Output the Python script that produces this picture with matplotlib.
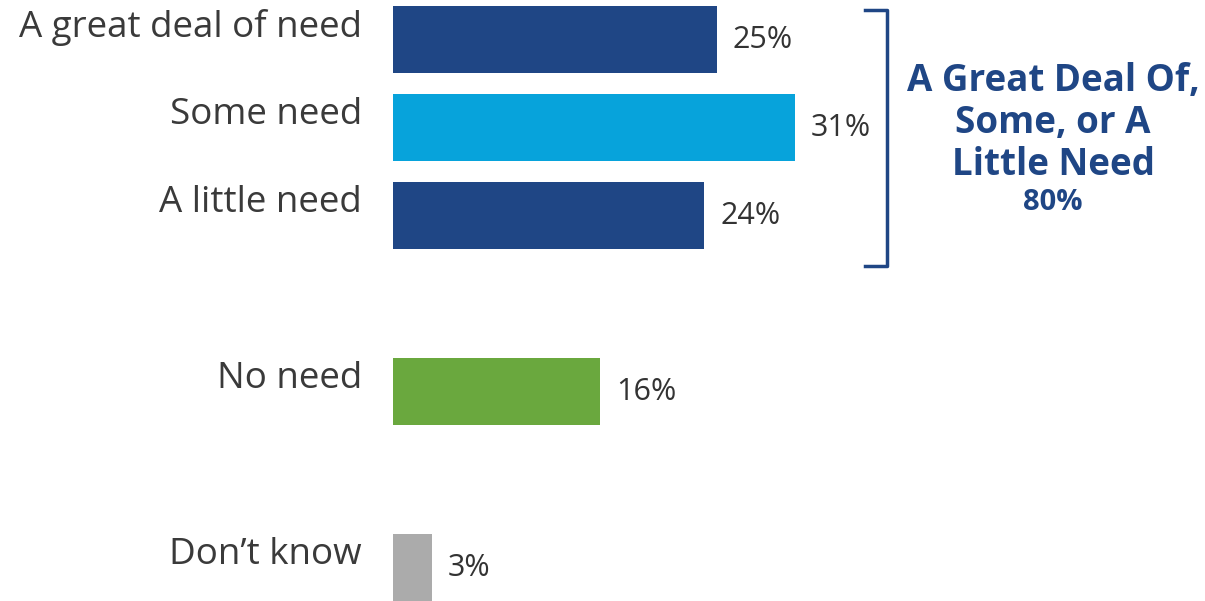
import matplotlib
matplotlib.use("Agg")
import matplotlib.pyplot as plt

categories = ["A great deal of need", "Some need", "A little need", "No need", "Don\u2019t know"]
values = [25, 31, 24, 16, 3]
positions = [0, 1, 2, 4, 6]
colors = ["#1F4685", "#07A3DB", "#1F4685", "#6AA83E", "#ABABAB"]
value_labels = ["25%", "31%", "24%", "16%", "3%"]
summary_text = "A Great Deal Of,\nSome, or A\nLittle Need"
summary_value = "80%"

plt.rcParams['font.family'] = ['Open Sans', 'DejaVu Sans']

W, H = 1205, 601
fig = plt.figure(figsize=(W / 100, H / 100), dpi=100)
left_px = 393
px_per_unit = 12.96
ax = fig.add_axes([left_px / W, 0, 1 - left_px / W, 1])
ax.set_xlim(0, (W - left_px) / px_per_unit)
step = 88.0
top_c = 39.5
ax.set_ylim((H - top_c) / step, -top_c / step)
ax.axis("off")

bh = 67 / step
ax.barh(positions, values, height=bh, color=colors, clip_on=False)

for p, v, lab, cat in zip(positions, values, value_labels, categories):
    ax.annotate(lab, xy=(v, p), xytext=(16, -1), textcoords="offset pixels",
                ha="left", va="center", fontsize=22, color="#333333")
    ax.annotate(cat, xy=(0, p), xytext=(-31, 12), textcoords="offset pixels",
                ha="right", va="center", fontsize=26.5, color="#3A3A3A",
                annotation_clip=False)

# bracket
bx = (887 - left_px) / px_per_unit
btick = (865 - left_px) / px_per_unit
ytop = positions[0] - bh / 2 + 4 / step
ybot = positions[2] + bh / 2 + 17 / step
ax.plot([btick, bx, bx, btick], [ytop, ytop, ybot, ybot], color="#1F4685",
        lw=2.5, solid_joinstyle="round", clip_on=False)

tx = (1053 - left_px) / px_per_unit
ax.text(tx, (123 - top_c) / step, summary_text, ha="center", va="center",
        fontsize=26.5, fontweight="bold", color="#1F4685", linespacing=1.13)
ax.text(tx, (203 - top_c) / step, summary_value, ha="center", va="center",
        fontsize=21, fontweight="bold", color="#1F4685")

fig.savefig("out.png", dpi=100)
